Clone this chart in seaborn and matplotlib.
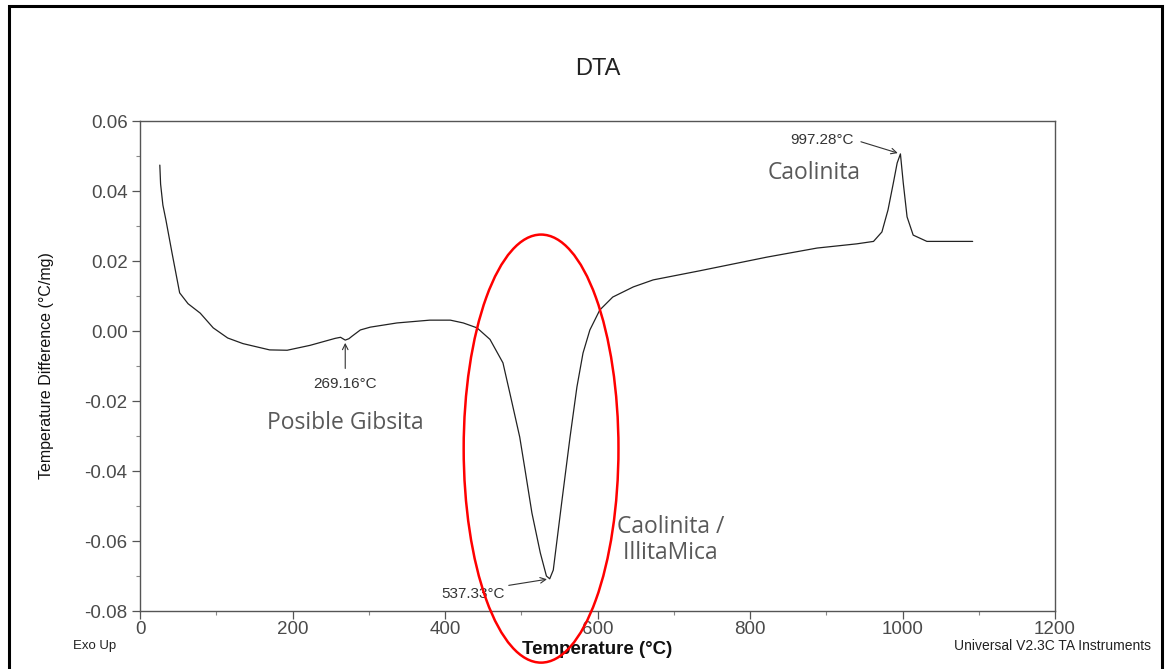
import matplotlib
matplotlib.use("Agg")
import matplotlib.pyplot as plt
from matplotlib.patches import Ellipse, Rectangle
from matplotlib.ticker import MultipleLocator, FuncFormatter
import numpy as np
import pandas as pd
import seaborn as sns

# DTA trace: temperature (°C) and temperature difference (°C/mg)
temperature = [26, 27, 30, 34, 42, 52, 63, 79, 96, 115, 135, 170, 193, 223, 256,
               263, 269.16, 274, 278, 289, 302, 337, 380, 407, 424, 442, 459,
               476, 485, 498, 505, 514, 525, 533, 537.33, 542, 553, 564, 573,
               581, 590, 603, 620, 647, 673, 734, 822, 888, 940, 962, 973, 981,
               988, 993, 997.28, 1001, 1006, 1014, 1032, 1092]
temp_diff = [0.0474, 0.0420, 0.0360, 0.0317, 0.0223, 0.0109, 0.0078, 0.0051,
             0.0009, -0.0020, -0.0036, -0.0054, -0.0055, -0.0041, -0.0021,
             -0.0018, -0.0026, -0.0022, -0.0015, 0.0003, 0.0011, 0.0023, 0.0031,
             0.0031, 0.0023, 0.0009, -0.0024, -0.0091, -0.0177, -0.0303, -0.0397,
             -0.0520, -0.0634, -0.0700, -0.0708, -0.0683, -0.0491, -0.0303,
             -0.0160, -0.0063, 0.0003, 0.0060, 0.0097, 0.0126, 0.0146, 0.0172,
             0.0211, 0.0237, 0.0249, 0.0256, 0.0283, 0.0346, 0.0423, 0.0480,
             0.0506, 0.0423, 0.0326, 0.0274, 0.0256, 0.0256]

# Peak markers: temperature, value, arrow tail and label position
peak_temps = [269.16, 537.33, 997.28]
peak_values = [-0.0026, -0.0708, 0.0506]
peak_labels = ["269.16°C", "537.33°C", "997.28°C"]
label_pos = [(269.16, -0.0115), (480, -0.0728), (942, 0.0543)]
label_text_pos = [(269.16, -0.0152), (437, -0.0750), (894, 0.0547)]

x_ticks = [0, 200, 400, 600, 800, 1000, 1200]
y_ticks = [-0.08, -0.06, -0.04, -0.02, 0.00, 0.02, 0.04, 0.06]

df = pd.DataFrame({"T": temperature, "dT": temp_diff})

sns.set_style("white")
plt.rcParams["font.family"] = ["Liberation Sans", "DejaVu Sans"]

fig = plt.figure(figsize=(11.69, 6.69), dpi=100)
ax = fig.add_axes([140 / 1169, 58 / 669, 915 / 1169, 490 / 669])

sns.lineplot(data=df, x="T", y="dT", ax=ax, color="#222222", linewidth=0.9,
             sort=False, estimator=None)

ax.set_xlim(0, 1200)
ax.set_ylim(-0.08, 0.06)
ax.set_xticks(x_ticks)
ax.set_yticks(y_ticks)
ax.xaxis.set_minor_locator(MultipleLocator(100))
ax.yaxis.set_minor_locator(MultipleLocator(0.01))
ax.yaxis.set_major_formatter(FuncFormatter(lambda v, p: "0.00" if abs(v) < 1e-9 else f"{v:.2f}"))
ax.xaxis.set_major_formatter(FuncFormatter(lambda v, p: f"{v:.0f}"))

for s in ax.spines.values():
    s.set_color("#555555")
    s.set_linewidth(1.0)
    s.set_visible(True)

ax.tick_params(axis="both", which="major", direction="out", length=6, width=0.9,
               color="#555555", labelsize=13.5, labelcolor="#4a4a4a", pad=3)
ax.tick_params(axis="x", which="major", pad=1)
ax.tick_params(axis="both", which="minor", direction="out", length=3, width=0.8,
               color="#888888")
ax.tick_params(axis="both", left=True, bottom=True, which="both")

ax.set_xlabel("Temperature (°C)", fontsize=13.5, fontweight="bold", labelpad=2,
              color="#111111")
ax.set_ylabel("Temperature Difference (°C/mg)", fontsize=11.5, labelpad=22,
              color="#111111")
ax.set_title("DTA", fontsize=17, pad=33, color="#222222")

# Peak annotations
for (tx, ty), (lx, ly), t, v, lab in zip(label_pos, label_text_pos, peak_temps,
                                          peak_values, peak_labels):
    ax.annotate("", xy=(t, v), xytext=(tx, ty),
                arrowprops=dict(arrowstyle="->", color="#333333", lw=0.8))
    ax.text(lx, ly, lab, fontsize=11, color="#333333", ha="center", va="center")

# Phase labels
phase_font = ["Open Sans", "DejaVu Sans"]
ax.text(269, -0.0263, "Posible Gibsita", fontsize=16.5, color="#595959",
        ha="center", va="center", family=phase_font)
ax.text(884, 0.0452, "Caolinita", fontsize=16.5, color="#595959",
        ha="center", va="center", family=phase_font)
ax.text(625, -0.0597, "Caolinita /\n IllitaMica", fontsize=16.5, color="#595959",
        ha="left", va="center", linespacing=1.15, family=phase_font)

# Highlight of the main endotherm
ax.add_patch(Ellipse((526, -0.0336), 203, 0.1223, fill=False, edgecolor="red",
                     linewidth=1.8, clip_on=False, zorder=5))

fig.text(73 / 1169, 1 - 646 / 669, "Exo Up", fontsize=9.5, color="#222222",
         ha="left", va="center")
fig.text(1151 / 1169, 1 - 646 / 669, "Universal V2.3C TA Instruments", fontsize=10,
         color="#222222", ha="right", va="center")

# Outer frame
fig.patches.append(Rectangle((9 / 1169, -0.02), 1153 / 1169, 1.02 - 6 / 669,
                             transform=fig.transFigure, fill=False,
                             edgecolor="black", linewidth=2.2))

fig.savefig("out.png", dpi=100)
